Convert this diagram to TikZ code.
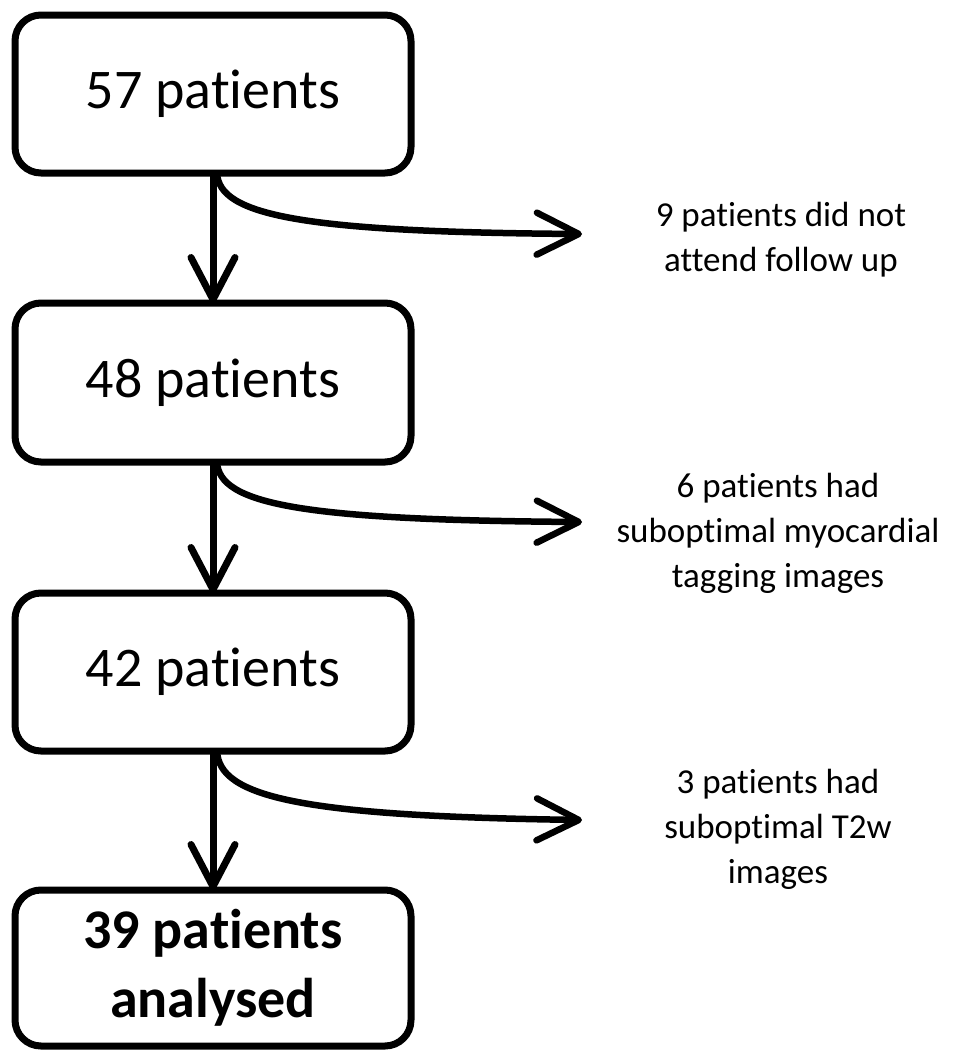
\documentclass[tikz,border=0pt]{standalone}
\usepackage{fontspec}
\setmainfont{Carlito}[Ligatures={NoCommon}]
\usetikzlibrary{arrows.meta,calc}
\begin{document}
\begin{tikzpicture}[x=1pt,y=-1pt,
  box/.style={draw=black, line width=7pt, rounded corners=26pt, minimum width=396pt,
    inner sep=0pt, outer sep=0pt, align=center, font=\fontsize{56}{68}\selectfont},
  side/.style={align=center, inner sep=0pt, font=\fontsize{35}{45}\selectfont},
  flow/.style={line width=7pt, -{Straight Barb[length=42pt,width=44pt,round]}},
  exitline/.style={line width=6.5pt, -{Straight Barb[length=42pt,width=42pt,round]}}]
\useasboundingbox (0,0) rectangle (958,1050);
\node[box, minimum height=158pt] (b1) at (213,94) {57 patients};
\node[box, minimum height=159pt] (b2) at (213,382.5) {48 patients};
\node[box, minimum height=158pt] (b3) at (213,672) {42 patients};
\node[box, minimum height=156pt, font=\fontsize{56}{69}\selectfont\bfseries] (b4) at (213,968) {39 patients\\analysed};
\node[side] (s1) at (781,240) {9 patients did not\\attend follow up};
\node[side] (s2) at (778,533) {6 patients had\\suboptimal myocardial\\tagging images};
\node[side] (s3) at (778,829) {3 patients had\\suboptimal T2w\\images};
\coordinate (e1) at (582,234);
\coordinate (e2) at (582,522);
\coordinate (e3) at (582,820);
\draw[flow] (b1.south) -- (b2.north);
\draw[flow] (b2.south) -- (b3.north);
\draw[flow] (b3.south) -- (b4.north);
\draw[exitline] ($(b1.south)+(4,0)$) .. controls ($(b1.south)+(6,42)$) and ($(b1.south)+(87,59)$) .. (e1);
\draw[exitline] ($(b2.south)+(4,0)$) .. controls ($(b2.south)+(6,42)$) and ($(b2.south)+(87,58)$) .. (e2);
\draw[exitline] ($(b3.south)+(4,0)$) .. controls ($(b3.south)+(6,46)$) and ($(b3.south)+(87,65)$) .. (e3);
\end{tikzpicture}
\end{document}
